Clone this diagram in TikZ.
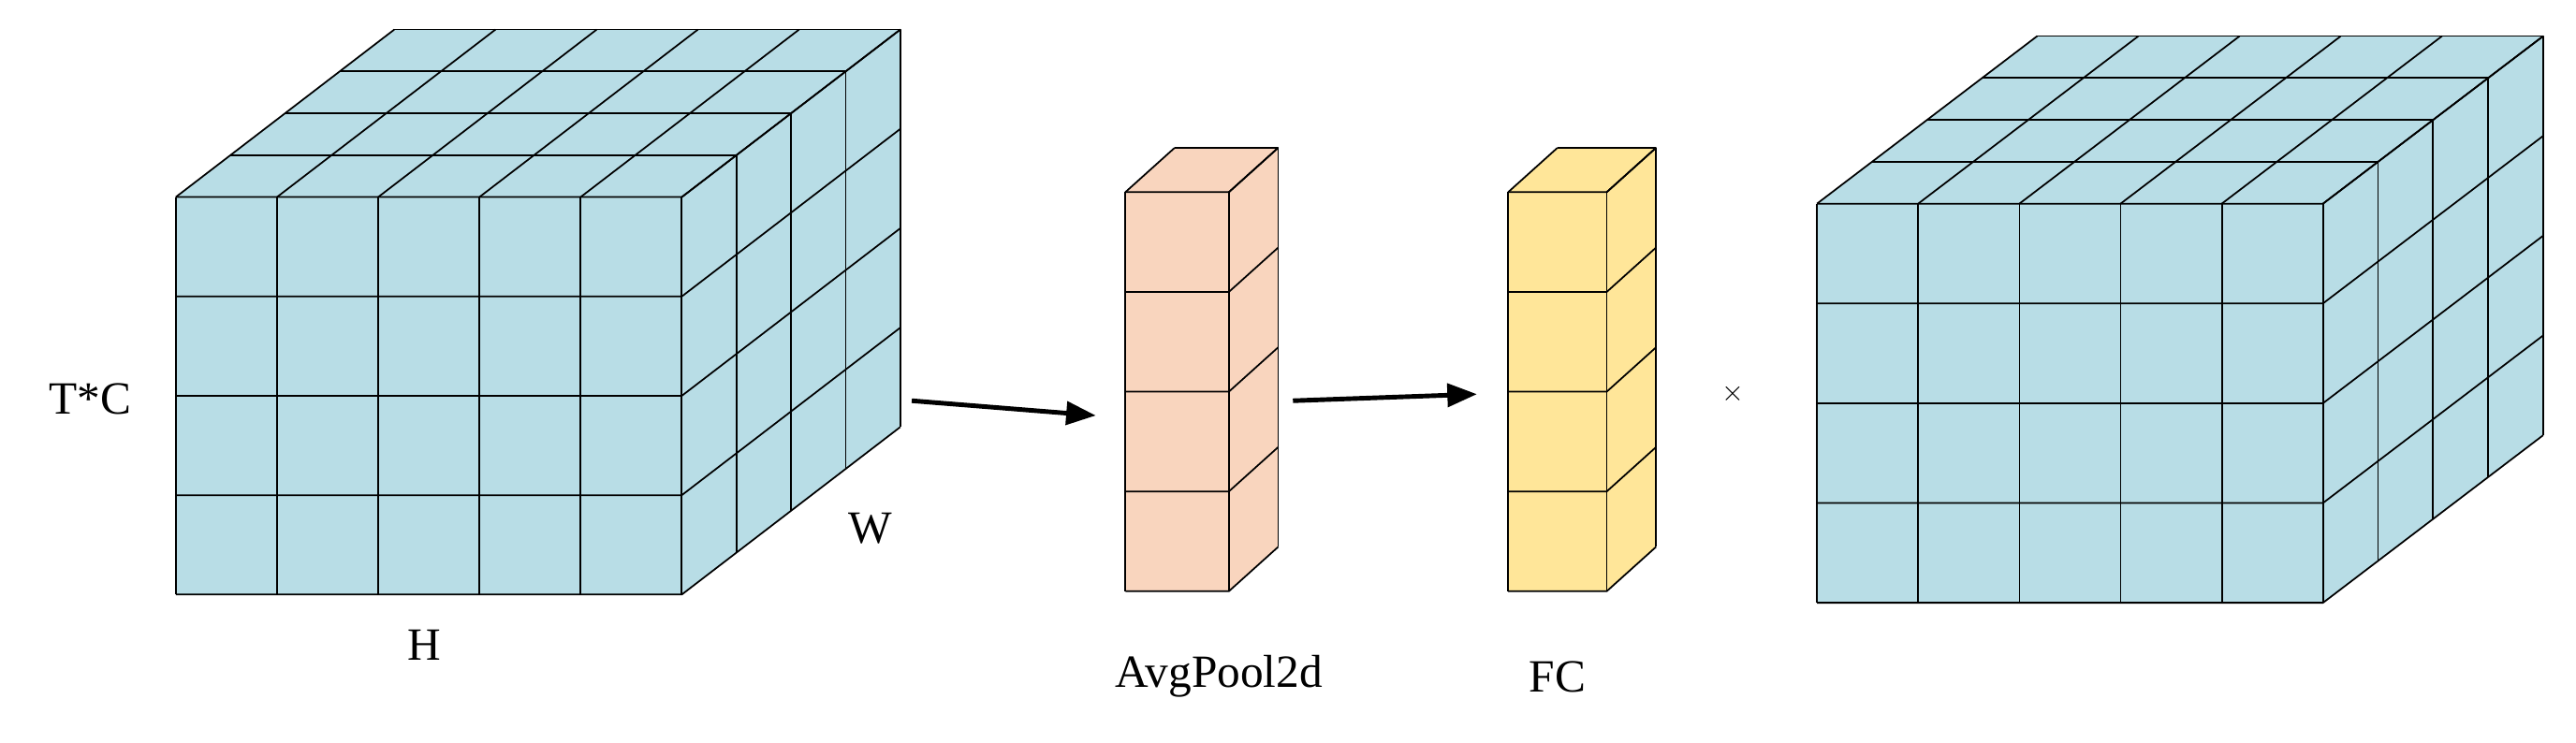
\documentclass[tikz,border=0pt]{standalone}
\usepackage{fontspec}
\setmainfont{Liberation Serif}
\usetikzlibrary{arrows.meta}
\definecolor{cblue}{HTML}{B8DDE6}
\definecolor{cpeach}{HTML}{F9D5BE}
\definecolor{cyell}{HTML}{FFE699}
\def\cubecol{cblue}
% x0 y0 w h nx ny dx dy nd
\newcommand\mycube[9]{%
 \fill[\cubecol] (#1,#2) -- ++(#3,0) -- ++(#7,#8) -- ++(0,#4) -- ++(-#7,-#8) -- ++(-#3,0) -- cycle;
 \fill[\cubecol] (#1,#2) -- ++(#7,#8) -- ++(#3,0) -- ++(-#7,-#8) -- cycle;
 \foreach \i in {0,...,#5}{\draw[gl] ({#1+\i*#3/#5},#2) -- ++(0,#4); \draw[gl] ({#1+\i*#3/#5},#2) -- ++(#7,#8);}
 \foreach \r in {0,...,#6}{\draw[gl] (#1,{#2+\r*#4/#6}) -- ++(#3,0) -- ++(#7,#8);}
 \foreach \j in {1,...,#9}{\draw[gl] ({#1+\j*#7/#9},{#2+\j*#8/#9}) -- ++(#3,0) -- ++(0,#4);}
}
\begin{document}
\begin{tikzpicture}[x=0.5mm,y=-0.5mm,gl/.style={draw=black,line width=0.5mm,line join=round},
 lab/.style={font=\fontsize{40}{44}\selectfont,inner sep=0},
 arr/.style={line width=1.4mm,-{Triangle[length=9mm,width=7mm]}}]
\useasboundingbox (0,0) rectangle (1568,452);
\def\cubecol{cblue}
\mycube{107}{120}{308}{242}{5}{4}{133}{-102}{4}
\def\cubecol{cpeach}
\mycube{685}{117}{63}{243}{1}{4}{30}{-27}{1}
\def\cubecol{cyell}
\mycube{918}{117}{60}{243}{1}{4}{30}{-27}{1}
\def\cubecol{cblue}
\mycube{1106}{124}{308}{243}{5}{4}{134}{-102}{4}
\coordinate (a1) at (555,244); \coordinate (a2) at (667,253);
\coordinate (b1) at (787,244); \coordinate (b2) at (899,240);
\draw[arr] (a1) -- (a2);
\draw[arr] (b1) -- (b2);
\node[lab] (tc) at (55,243) {T*C};
\node[lab] (h) at (258,393) {H};
\node[lab] (w) at (530,322) {W};
\node[lab] (ap) at (742,412) {AvgPool2d};
\node[lab] (fc) at (948,412) {FC};
\node[lab] (x) at (1055,240) {$\times$};
\end{tikzpicture}
\end{document}
